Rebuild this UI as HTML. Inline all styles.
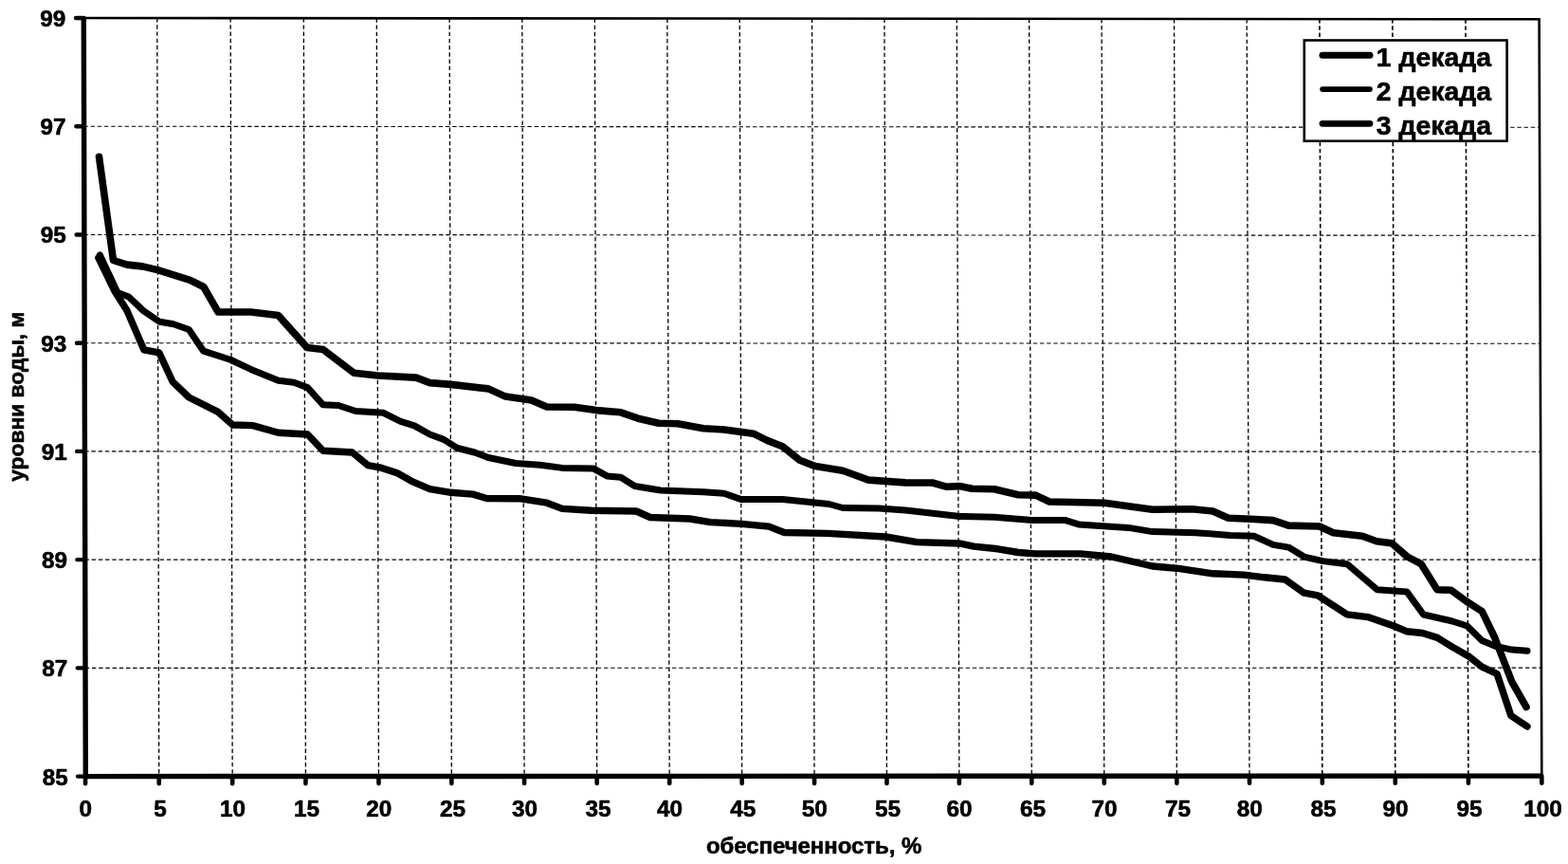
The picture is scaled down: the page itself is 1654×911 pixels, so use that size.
<!DOCTYPE html>
<html lang="ru">
<head>
<meta charset="utf-8">
<title>Кривые обеспеченности уровней воды</title>
<style>
html,body{margin:0;padding:0;background:#fff;}
body{width:1654px;height:911px;overflow:hidden;}
svg{display:block;}
text{font-family:"Liberation Sans",sans-serif;font-weight:bold;fill:#000;stroke:#000;stroke-width:0.6px;stroke-linejoin:round;}
.grid line{stroke:#000;stroke-width:1.3;stroke-dasharray:4.4 2.8;}
.curve{fill:none;stroke:#000;stroke-linejoin:round;stroke-linecap:round;}
</style>
</head>
<body>
<svg width="1654" height="911" viewBox="0 0 1654 911">
<rect x="0" y="0" width="1654" height="911" fill="#fff"/>

<g class="grid">
<line x1="165.76" y1="19.07" x2="167.73" y2="818.58"/>
<line x1="243.15" y1="19.13" x2="245.18" y2="818.55"/>
<line x1="320.33" y1="19.20" x2="322.41" y2="818.52"/>
<line x1="397.31" y1="19.26" x2="399.45" y2="818.50"/>
<line x1="474.13" y1="19.32" x2="476.32" y2="818.48"/>
<line x1="550.80" y1="19.39" x2="553.05" y2="818.45"/>
<line x1="627.35" y1="19.46" x2="629.66" y2="818.43"/>
<line x1="703.82" y1="19.52" x2="706.18" y2="818.40"/>
<line x1="780.21" y1="19.59" x2="782.63" y2="818.38"/>
<line x1="856.56" y1="19.65" x2="859.04" y2="818.35"/>
<line x1="932.90" y1="19.71" x2="935.43" y2="818.33"/>
<line x1="1009.24" y1="19.78" x2="1011.83" y2="818.30"/>
<line x1="1085.61" y1="19.84" x2="1088.26" y2="818.27"/>
<line x1="1162.05" y1="19.91" x2="1164.74" y2="818.25"/>
<line x1="1238.56" y1="19.98" x2="1241.31" y2="818.23"/>
<line x1="1315.18" y1="20.04" x2="1317.99" y2="818.20"/>
<line x1="1391.94" y1="20.11" x2="1394.80" y2="818.18" style="stroke-width:1.6"/>
<line x1="1468.85" y1="20.17" x2="1471.77" y2="818.15" style="stroke-width:1.6"/>
<line x1="1545.95" y1="20.23" x2="1548.92" y2="818.12" style="stroke-width:1.6"/>
<line x1="89.77" y1="704.37" x2="1625.85" y2="704.13" style="stroke-width:1.1"/>
<line x1="89.49" y1="590.14" x2="1625.42" y2="590.16" style="stroke-width:1.1"/>
<line x1="89.22" y1="475.91" x2="1624.98" y2="476.19" style="stroke-width:1.1"/>
<line x1="88.94" y1="361.69" x2="1624.55" y2="362.21" style="stroke-width:1.1"/>
<line x1="88.67" y1="247.46" x2="1624.12" y2="248.24" style="stroke-width:1.1"/>
<line x1="88.40" y1="133.23" x2="1623.68" y2="134.27" style="stroke-width:1.1"/>
</g>
<g fill="none" stroke="#000">
<polyline points="88.30,19.00 1623.60,20.30 1626.30,818.10" stroke-width="2.6" stroke-linejoin="miter"/>
<polyline points="88.30,17.70 90.30,818.60 1627.50,818.10" stroke-width="5.4" stroke-linejoin="miter"/>
<line x1="82.10" y1="818.60" x2="90.30" y2="818.60" stroke-width="4.4" stroke-linecap="round"/>
<line x1="81.81" y1="704.37" x2="90.01" y2="704.37" stroke-width="4.4" stroke-linecap="round"/>
<line x1="81.53" y1="590.14" x2="89.73" y2="590.14" stroke-width="4.4" stroke-linecap="round"/>
<line x1="81.24" y1="475.91" x2="89.44" y2="475.91" stroke-width="4.4" stroke-linecap="round"/>
<line x1="80.96" y1="361.69" x2="89.16" y2="361.69" stroke-width="4.4" stroke-linecap="round"/>
<line x1="80.67" y1="247.46" x2="88.87" y2="247.46" stroke-width="4.4" stroke-linecap="round"/>
<line x1="80.39" y1="133.23" x2="88.59" y2="133.23" stroke-width="4.4" stroke-linecap="round"/>
<line x1="80.10" y1="19.00" x2="88.30" y2="19.00" stroke-width="4.4" stroke-linecap="round"/>
<line x1="90.04" y1="818.60" x2="90.06" y2="826.20" stroke-width="4.6" stroke-linecap="round"/>
<line x1="167.73" y1="818.58" x2="167.75" y2="826.18" stroke-width="4.6" stroke-linecap="round"/>
<line x1="245.18" y1="818.55" x2="245.20" y2="826.15" stroke-width="4.6" stroke-linecap="round"/>
<line x1="322.41" y1="818.52" x2="322.43" y2="826.12" stroke-width="4.6" stroke-linecap="round"/>
<line x1="399.45" y1="818.50" x2="399.47" y2="826.10" stroke-width="4.6" stroke-linecap="round"/>
<line x1="476.32" y1="818.48" x2="476.34" y2="826.08" stroke-width="4.6" stroke-linecap="round"/>
<line x1="553.05" y1="818.45" x2="553.07" y2="826.05" stroke-width="4.6" stroke-linecap="round"/>
<line x1="629.66" y1="818.43" x2="629.68" y2="826.03" stroke-width="4.6" stroke-linecap="round"/>
<line x1="706.18" y1="818.40" x2="706.20" y2="826.00" stroke-width="4.6" stroke-linecap="round"/>
<line x1="782.63" y1="818.38" x2="782.65" y2="825.98" stroke-width="4.6" stroke-linecap="round"/>
<line x1="859.04" y1="818.35" x2="859.06" y2="825.95" stroke-width="4.6" stroke-linecap="round"/>
<line x1="935.43" y1="818.33" x2="935.45" y2="825.93" stroke-width="4.6" stroke-linecap="round"/>
<line x1="1011.83" y1="818.30" x2="1011.85" y2="825.90" stroke-width="4.6" stroke-linecap="round"/>
<line x1="1088.26" y1="818.27" x2="1088.28" y2="825.88" stroke-width="4.6" stroke-linecap="round"/>
<line x1="1164.74" y1="818.25" x2="1164.76" y2="825.85" stroke-width="4.6" stroke-linecap="round"/>
<line x1="1241.31" y1="818.23" x2="1241.33" y2="825.83" stroke-width="4.6" stroke-linecap="round"/>
<line x1="1317.99" y1="818.20" x2="1318.01" y2="825.80" stroke-width="4.6" stroke-linecap="round"/>
<line x1="1394.80" y1="818.18" x2="1394.82" y2="825.78" stroke-width="4.6" stroke-linecap="round"/>
<line x1="1471.77" y1="818.15" x2="1471.79" y2="825.75" stroke-width="4.6" stroke-linecap="round"/>
<line x1="1548.92" y1="818.12" x2="1548.94" y2="825.73" stroke-width="4.6" stroke-linecap="round"/>
<line x1="1626.28" y1="818.10" x2="1626.30" y2="825.70" stroke-width="4.6" stroke-linecap="round"/>
</g>
<polyline class="curve" points="103.9,271.8 121.3,307.6 134.0,327.6 151.8,368.8 167.8,371.8 182.0,402.3 199.3,419.0 230.1,434.4 245.5,448.0 266.4,448.6 293.6,456.2 324.4,458.0 340.8,475.2 371.6,477.0 388.1,490.6 402.7,493.4 419.0,498.8 435.3,507.9 453.4,515.7 475.7,519.3 498.8,521.1 513.3,525.5 547.8,525.7 576.8,530.2 593.1,536.4 623.9,538.2 671.3,539.0 685.8,545.5 727.6,547.0 749.3,550.6 782.0,552.4 811.0,555.1 827.3,561.5 872.7,562.4 934.3,566.0 967.2,571.6 1012.6,573.0 1027.1,576.1 1052.5,578.8 1074.2,582.5 1092.4,583.9 1139.5,583.9 1172.2,587.0 1215.7,597.0 1241.3,599.2 1279.4,604.8 1312.1,606.1 1333.8,608.8 1355.6,611.0 1375.6,625.2 1390.1,627.9 1420.9,647.8 1442.7,650.6 1470.2,660.0 1483.5,665.7 1500.5,667.5 1516.2,672.4 1530.7,681.4 1548.8,691.7 1563.3,703.2 1579.1,710.5 1593.8,754.5 1611.0,766.0" stroke-width="7.4"/>
<polyline class="curve" points="105.3,268.8 124.0,308.5 135.8,313.0 151.2,327.6 168.4,339.3 183.0,341.7 199.3,347.5 214.7,370.2 243.7,379.5 264.6,389.4 293.6,401.3 310.0,403.3 324.4,408.6 340.8,426.8 357.0,427.5 375.2,433.5 404.5,435.3 422.6,444.4 437.1,448.9 453.4,458.0 468.0,463.4 482.5,472.5 500.6,477.0 515.1,482.5 544.1,488.5 569.5,490.3 593.1,493.4 625.8,493.9 640.3,501.9 654.8,503.3 669.5,512.5 696.7,517.0 742.1,518.8 763.8,520.3 782.0,526.6 825.5,526.6 874.5,531.5 889.0,535.5 927.1,536.1 955.0,538.0 1012.6,544.4 1048.8,545.3 1088.7,548.4 1123.2,548.4 1137.7,552.9 1190.3,556.4 1215.7,560.6 1261.3,561.7 1297.6,564.4 1322.9,565.3 1342.9,574.4 1359.2,577.1 1375.6,587.1 1395.5,591.6 1420.9,594.7 1452.8,621.8 1484.0,623.9 1501.5,648.0 1531.9,655.0 1547.6,660.0 1563.3,675.4 1577.9,681.4 1594.8,685.1 1611.0,686.3" stroke-width="7.0"/>
<polyline class="curve" points="104.5,165.3 119.5,274.5 134.0,279.1 150.3,280.9 166.3,284.6 183.0,289.8 200.5,295.3 214.8,302.5 230.1,329.0 264.6,329.0 293.6,332.6 323.8,366.4 340.8,368.4 373.4,393.3 398.5,396.0 438.9,398.1 453.4,403.6 475.7,405.4 515.1,409.9 533.2,418.1 560.5,422.1 576.8,429.0 605.8,429.3 629.0,432.6 654.8,434.8 673.1,441.2 694.9,446.3 714.9,446.8 742.1,451.7 763.8,453.0 794.7,457.2 809.2,464.4 825.5,470.8 843.6,485.3 860.0,491.6 889.0,496.2 916.2,506.1 955.0,508.9 983.5,509.0 998.0,513.2 1012.6,512.6 1025.3,515.3 1048.8,515.7 1074.2,521.7 1092.4,522.1 1106.9,529.0 1164.9,530.2 1215.7,537.3 1257.6,536.8 1279.4,539.0 1295.7,546.3 1319.3,547.2 1342.9,548.6 1359.2,554.1 1391.9,555.0 1406.4,561.7 1437.2,565.3 1452.1,570.8 1467.9,572.7 1484.5,587.0 1499.1,594.7 1516.0,621.8 1530.7,622.3 1546.4,633.8 1563.3,644.6 1576.6,672.0 1594.8,718.9 1610.0,745.5" stroke-width="7.6"/>
<text x="71.8" y="827.5" font-size="24.3" text-anchor="end">85</text>
<text x="71.4" y="713.3" font-size="24.3" text-anchor="end">87</text>
<text x="71.1" y="599.0" font-size="24.3" text-anchor="end">89</text>
<text x="70.7" y="484.8" font-size="24.3" text-anchor="end">91</text>
<text x="70.3" y="370.6" font-size="24.3" text-anchor="end">93</text>
<text x="69.9" y="256.4" font-size="24.3" text-anchor="end">95</text>
<text x="69.6" y="142.1" font-size="24.3" text-anchor="end">97</text>
<text x="69.2" y="27.9" font-size="24.3" text-anchor="end">99</text>
<text x="90.3" y="860.9" font-size="24.3" text-anchor="middle">0</text>
<text x="168.9" y="860.9" font-size="24.3" text-anchor="middle">5</text>
<text x="245.5" y="860.9" font-size="24.3" text-anchor="middle">10</text>
<text x="323.6" y="860.9" font-size="24.3" text-anchor="middle">15</text>
<text x="399.8" y="860.9" font-size="24.3" text-anchor="middle">20</text>
<text x="477.5" y="860.9" font-size="24.3" text-anchor="middle">25</text>
<text x="553.4" y="860.9" font-size="24.3" text-anchor="middle">30</text>
<text x="630.9" y="860.9" font-size="24.3" text-anchor="middle">35</text>
<text x="706.5" y="860.9" font-size="24.3" text-anchor="middle">40</text>
<text x="783.8" y="860.9" font-size="24.3" text-anchor="middle">45</text>
<text x="859.3" y="860.9" font-size="24.3" text-anchor="middle">50</text>
<text x="936.6" y="860.9" font-size="24.3" text-anchor="middle">55</text>
<text x="1012.1" y="860.9" font-size="24.3" text-anchor="middle">60</text>
<text x="1089.5" y="860.9" font-size="24.3" text-anchor="middle">65</text>
<text x="1165.0" y="860.9" font-size="24.3" text-anchor="middle">70</text>
<text x="1242.5" y="860.9" font-size="24.3" text-anchor="middle">75</text>
<text x="1318.3" y="860.9" font-size="24.3" text-anchor="middle">80</text>
<text x="1396.0" y="860.9" font-size="24.3" text-anchor="middle">85</text>
<text x="1472.1" y="860.9" font-size="24.3" text-anchor="middle">90</text>
<text x="1550.1" y="860.9" font-size="24.3" text-anchor="middle">95</text>
<text x="1627.5" y="860.9" font-size="24.3" text-anchor="middle">100</text>
<text x="858.6" y="900.0" font-size="23.9" text-anchor="middle">обеспеченность, %</text>
<text transform="translate(24.8,418.2) rotate(-90)" font-size="22.8" text-anchor="middle">уровни воды, м</text>
<rect x="1375.8" y="42.5" width="213.8" height="106.2" fill="#fff" stroke="#000" stroke-width="2.6"/>
<line x1="1395" y1="58.3" x2="1445" y2="58.3" stroke="#000" stroke-width="7.0" stroke-linecap="round"/>
<text x="1451.8" y="69.9" font-size="28.4">1 декада</text>
<line x1="1395" y1="94.1" x2="1445" y2="94.1" stroke="#000" stroke-width="5.6" stroke-linecap="round"/>
<text x="1451.8" y="105.7" font-size="28.4">2 декада</text>
<line x1="1395" y1="130.3" x2="1445" y2="130.3" stroke="#000" stroke-width="6.8" stroke-linecap="round"/>
<text x="1451.8" y="141.7" font-size="28.4">3 декада</text>
</svg>
</body>
</html>
